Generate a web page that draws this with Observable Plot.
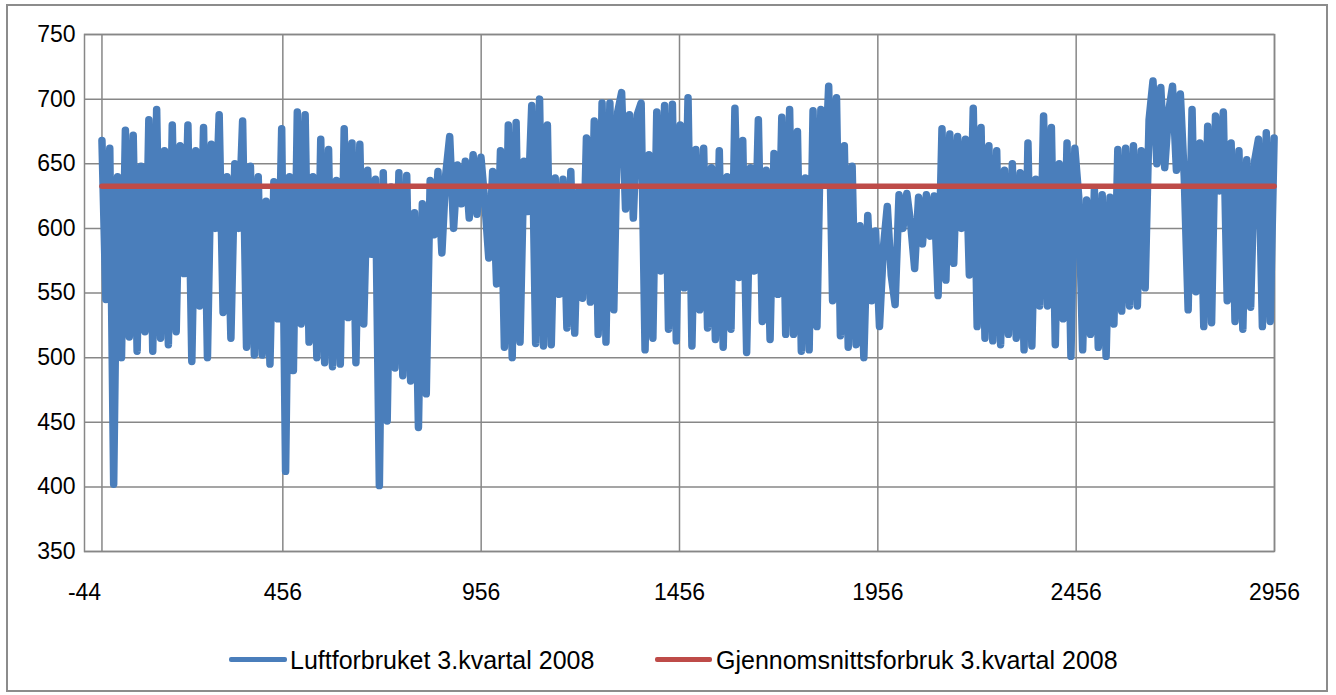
<!DOCTYPE html>
<html><head><meta charset="utf-8">
<script src="https://cdn.jsdelivr.net/npm/d3@7"></script>
<script src="https://cdn.jsdelivr.net/npm/@observablehq/plot@0.6"></script>
<style>
body{margin:0;background:#fff;font-family:"Liberation Sans",Arial,sans-serif;}
#wrap{position:relative;width:1336px;height:695px;overflow:hidden;background:#fff;}
#border{position:absolute;left:6px;top:4px;width:1318px;height:684px;border:2px solid #8c8c8c;pointer-events:none;}
#legend{position:absolute;left:0;top:620px;width:1336px;height:75px;}
.sw{position:absolute;height:5px;border-radius:2px;}
.lt{position:absolute;font-size:25px;line-height:30px;color:#000;white-space:nowrap;}
</style></head>
<body><div id="wrap"><div id="chart"></div><div id="legend"></div><div id="border"></div></div>
<script>
// Series names
const seriesNames = ["Luftforbruket 3.kvartal 2008", "Gjennomsnittsforbruk 3.kvartal 2008"];
const seriesColors = ["#4A7EBB", "#BE4B48"];

// Observation index axis: first index and step between sampled readings
const xFirst = 0;
const xStep = 9.85;

// Air consumption readings
const consumption = [
668, 545, 662, 402, 640, 500, 676, 516, 672, 505,
648, 520, 684, 505, 692, 515, 660, 510, 680, 520,
664, 565, 680, 497, 660, 540, 678, 500, 665, 600,
688, 535, 640, 515, 650, 600, 683, 508, 648, 502,
640, 502, 621, 495, 636, 530, 677, 412, 640, 490,
690, 526, 688, 512, 640, 500, 669, 496, 661, 493,
637, 495, 677, 531, 666, 496, 665, 526, 645, 580,
638, 401, 643, 451, 632, 492, 643, 486, 641, 482,
612, 446, 619, 472, 637, 595, 644, 581, 642, 671,
600, 649, 619, 652, 608, 657, 611, 655, 620, 577,
644, 557, 660, 508, 680, 500, 682, 512, 652, 613,
695, 511, 700, 509, 680, 510, 639, 549, 638, 523,
644, 519, 629, 546, 670, 543, 683, 518, 697, 512,
697, 537, 690, 705, 615, 688, 608, 688, 697, 506,
657, 515, 690, 567, 695, 522, 696, 513, 680, 554,
701, 509, 661, 537, 662, 523, 647, 514, 660, 508,
640, 522, 693, 562, 668, 504, 647, 567, 684, 528,
645, 514, 658, 549, 686, 518, 692, 518, 675, 505,
639, 506, 691, 524, 692, 637, 710, 544, 701, 517,
664, 508, 648, 510, 602, 500, 610, 544, 598, 524,
585, 617, 564, 541, 626, 600, 627, 603, 569, 624,
588, 626, 594, 625, 548, 677, 560, 673, 573, 671,
600, 669, 564, 693, 524, 678, 515, 664, 513, 660,
510, 645, 518, 650, 515, 643, 506, 666, 509, 638,
540, 687, 540, 678, 510, 650, 530, 666, 501, 662,
624, 506, 622, 518, 630, 508, 626, 501, 624, 526,
661, 536, 662, 540, 664, 540, 660, 554, 684, 714,
650, 709, 647, 690, 710, 645, 704, 640, 537, 692,
551, 666, 524, 679, 527, 687, 629, 690, 544, 666,
528, 660, 522, 653, 539, 652, 669, 524, 674, 528,
670
];

// Average consumption
const averageValue = 632.6;

// Tick labels
const xTicks = [-44, 456, 956, 1456, 1956, 2456, 2956];
const xGrid = [0, 456, 956, 1456, 1956, 2456, 2956];
const yTicks = [350, 400, 450, 500, 550, 600, 650, 700, 750];

const data = consumption.map((v, i) => ({x: xFirst + i * xStep, y: v}));
const avgData = [
  {x: data[0].x, y: averageValue},
  {x: data[data.length - 1].x, y: averageValue}
];

const gridColor = "#878787";
const chart = Plot.plot({
  width: 1336,
  height: 620,
  marginLeft: 84,
  marginRight: 62,
  marginTop: 34,
  marginBottom: 69,
  style: {fontFamily: "'Liberation Sans', Arial, sans-serif", fontSize: "23px", color: "#000", background: "#fff"},
  x: {domain: [-44, 2956], label: null},
  y: {domain: [350, 750], label: null},
  marks: [
    Plot.gridX(xGrid, {stroke: gridColor, strokeOpacity: 1, strokeWidth: 1.5}),
    Plot.gridY(yTicks, {stroke: gridColor, strokeOpacity: 1, strokeWidth: 1.5}),
    Plot.frame({stroke: gridColor, strokeWidth: 1.5}),
    Plot.line(data, {x: "x", y: "y", stroke: seriesColors[0], strokeWidth: 7.5, strokeLinejoin: "round", strokeLinecap: "round"}),
    Plot.line(avgData, {x: "x", y: "y", stroke: seriesColors[1], strokeWidth: 5.5}),
    Plot.axisX(xTicks, {tickSize: 0, tickPadding: 32, fontSize: 23, label: null, tickFormat: d => String(d)}),
    Plot.axisY(yTicks, {tickSize: 0, tickPadding: 9, fontSize: 23, label: null, tickFormat: d => String(d)})
  ]
});
document.getElementById("chart").appendChild(chart);

// Legend
const legend = document.getElementById("legend");
const legendPos = [{sw: 229, swW: 58, tx: 290}, {sw: 655, swW: 57, tx: 716}];
seriesNames.forEach((name, i) => {
  const sw = document.createElement("div");
  sw.className = "sw";
  sw.style.left = legendPos[i].sw + "px";
  sw.style.width = legendPos[i].swW + "px";
  sw.style.top = "37px";
  sw.style.background = seriesColors[i];
  legend.appendChild(sw);
  const t = document.createElement("div");
  t.className = "lt";
  t.style.left = legendPos[i].tx + "px";
  t.style.top = "25px";
  t.textContent = name;
  legend.appendChild(t);
});
</script>
</body></html>
